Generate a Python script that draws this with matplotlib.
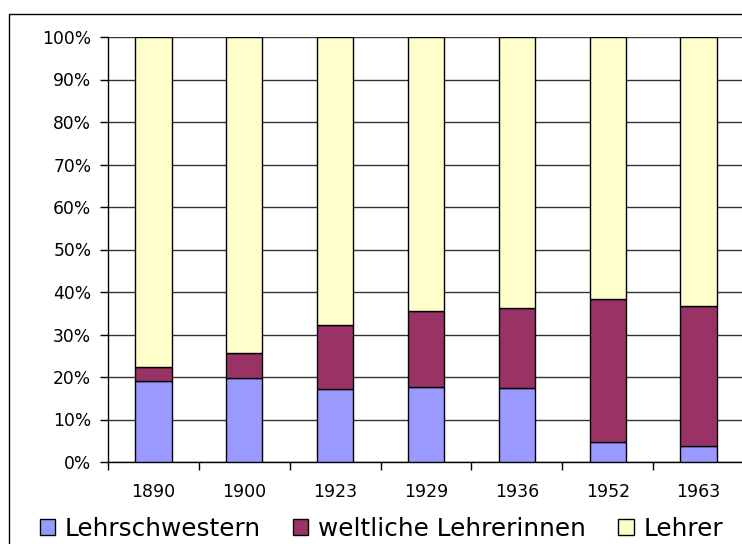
import matplotlib.pyplot as plt
from matplotlib.patches import Rectangle
import numpy as np

years = ['1890', '1900', '1923', '1929', '1936', '1952', '1963']
lehrschwestern = [19.1, 19.8, 17.1, 17.6, 17.3, 4.7, 3.7]
weltliche = [3.2, 5.8, 15.1, 17.9, 18.9, 33.6, 33.1]
lehrer = [100 - a - b for a, b in zip(lehrschwestern, weltliche)]

labels = ['Lehrschwestern', 'weltliche Lehrerinnen', 'Lehrer']
colors = ['#9999FF', '#993366', '#FFFFCC']

plt.rcParams['font.family'] = ['DejaVu Sans']

fig = plt.figure(figsize=(7.42, 5.44), dpi=100)
ax = fig.add_axes([108 / 742, 1 - 462 / 544, 636 / 742, 425 / 544])

# outer chart frame (cut off at right and bottom like the original)
fig.patches.append(Rectangle((9 / 742, -0.05), 1.2, 1 - 13.7 / 544 + 0.05,
                             transform=fig.transFigure, fill=False,
                             edgecolor='black', lw=1.0))

x = np.arange(len(years))
bottom = np.zeros(len(years))
for vals, lab, col in zip([lehrschwestern, weltliche, lehrer], labels, colors):
    ax.bar(x, vals, width=0.4, bottom=bottom, color=col, edgecolor='black',
           linewidth=1.0, label=lab, zorder=3)
    bottom += np.array(vals)

ax.set_xlim(-0.5, len(years) - 0.5)
ax.set_ylim(0, 100)
ax.set_yticks(np.arange(0, 101, 10))
ax.set_yticklabels([f'{v}%' for v in range(0, 101, 10)], fontsize=12.3)
ax.set_xticks(x)
ax.set_xticklabels(years, fontsize=12.5)
ax.set_xticks(np.arange(-0.5, len(years), 1), minor=True)
ax.tick_params(axis='x', which='major', length=0, pad=15)
ax.tick_params(axis='x', which='minor', length=6, width=1, direction='out')
ax.tick_params(axis='y', length=6, width=1, direction='out', pad=6)
ax.yaxis.grid(True, color='#333333', lw=1.0, zorder=0)
ax.set_axisbelow(True)
for s in ['top', 'right']:
    ax.spines[s].set_visible(False)
for s in ['left', 'bottom']:
    ax.spines[s].set_linewidth(1.0)

fig.legend(loc='center', bbox_to_anchor=(0.514, 1 - 529 / 544), ncol=3,
           frameon=False, fontsize=17.8, handlelength=0.62, handleheight=0.62,
           handletextpad=0.4, columnspacing=1.3, borderpad=0)

fig.savefig('out.png', dpi=100)
